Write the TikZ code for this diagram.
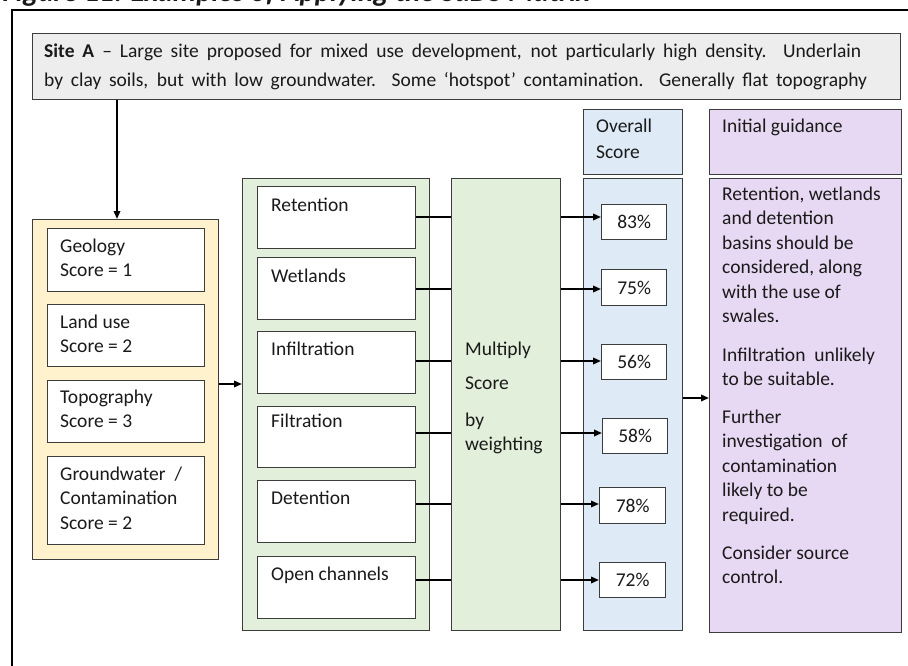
\documentclass[tikz,border=0pt]{standalone}
\usepackage{fontspec}
\setmainfont{Carlito}
\usetikzlibrary{arrows.meta}

\definecolor{edge}{HTML}{3C3C3C}
\definecolor{sitegrey}{HTML}{EDEDED}
\definecolor{factfill}{HTML}{FFF2CC}
\definecolor{optfill}{HTML}{E2EFDA}
\definecolor{scorefill}{HTML}{DEEBF7}
\definecolor{guidefill}{HTML}{E7D9F3}
\definecolor{ink}{HTML}{1A1A1A}

\newcommand\bodyfont{\fontsize{19.5}{24.5}\selectfont}
\newcommand\topline{\rule{0pt}{16pt}}

\begin{document}
\begin{tikzpicture}[x=1pt,y=-1pt,
  box/.style={draw=edge, line width=1.3pt, inner sep=0pt, anchor=north west},
  lbl/.style={anchor=north west, align=left, inner sep=0pt, font=\bodyfont, text=ink},
  conn/.style={line width=1.8pt, black},
  arr/.style={conn, -{Triangle[length=8pt,width=6.5pt]}}]
\useasboundingbox (0,0) rectangle (908,666);

% caption (runs off the top edge)
\node[anchor=base east, inner sep=0pt, text=ink,
      font=\fontsize{29}{30}\selectfont\bfseries\itshape] (cap) at (590,1.5)
  {Figure 11: Examples of Applying the SuDS Matrix};

% outer frame
\draw[line width=1.4pt, black] (12,666) -- (12,10) -- (908,10);

% site description
\node[box, fill=sitegrey, minimum width=868pt, minimum height=66pt] (siteA) at (32,33) {};
\node[anchor=north west, align=left, inner sep=0pt, text=ink,
      font=\fontsize{19.5}{29}\selectfont] (siteAt) at (44,41)
  {\topline\makebox[817pt][s]{\textbf{Site A} – Large site proposed for mixed use development, not particularly high density. Underlain}\\
   \makebox[823pt][s]{by clay soils, but with low groundwater. Some ‘hotspot’ contamination. Generally flat topography}};

% site factors
\node[box, fill=factfill, minimum width=186pt, minimum height=340pt] (yel) at (32,219) {};
\node[box, fill=white, minimum width=157pt, minimum height=63pt] (geo) at (47,228) {};
\node[box, fill=white, minimum width=157pt, minimum height=62pt] (land) at (47,304) {};
\node[box, fill=white, minimum width=157pt, minimum height=62pt] (topo) at (47,380) {};
\node[box, fill=white, minimum width=157pt, minimum height=88pt] (gw) at (47,456) {};
\node[lbl] (geot) at ([shift={(13,8)}]geo.north west) {\topline Geology\\Score = 1};
\node[lbl] (landt) at ([shift={(13,8)}]land.north west) {\topline Land use\\Score = 2};
\node[lbl] (topot) at ([shift={(13,7)}]topo.north west) {\topline Topography\\Score = 3};
\node[lbl] (gwt) at ([shift={(13,8)}]gw.north west) {\topline Groundwater\ \ /\\Contamination\\Score = 2};

% SuDS options
\node[box, fill=optfill, minimum width=187pt, minimum height=452pt] (grn) at (242,178) {};
\node[box, fill=white, minimum width=158pt, minimum height=62pt] (ret) at (257,186) {};
\node[box, fill=white, minimum width=158pt, minimum height=62pt] (wet) at (257,257) {};
\node[box, fill=white, minimum width=158pt, minimum height=62pt] (inf) at (257,331) {};
\node[box, fill=white, minimum width=158pt, minimum height=61pt] (fil) at (257,406) {};
\node[box, fill=white, minimum width=158pt, minimum height=62pt] (det) at (257,480) {};
\node[box, fill=white, minimum width=158pt, minimum height=62pt] (och) at (257,556) {};
\node[lbl] (rett) at ([shift={(14,9)}]ret.north west) {\topline Retention};
\node[lbl] (wett) at ([shift={(14,9)}]wet.north west) {\topline Wetlands};
\node[lbl] (inft) at ([shift={(14,8)}]inf.north west) {\topline Infiltration};
\node[lbl] (filt) at ([shift={(14,5)}]fil.north west) {\topline Filtration};
\node[lbl] (dett) at ([shift={(14,8)}]det.north west) {\topline Detention};
\node[lbl] (ocht) at ([shift={(14,8)}]och.north west) {\topline Open channels};

% weighting
\node[box, fill=optfill, minimum width=109pt, minimum height=452pt] (mult) at (451,178) {};
\node[lbl] (multt) at (465,339) {\topline Multiply\\[10pt]Score\\[12pt]by\\weighting};

% overall scores
\node[box, fill=scorefill, minimum width=99pt, minimum height=65pt] (oshead) at (583,109) {};
\node[lbl] (osheadt) at (596,116) {\topline Overall\\[1.5pt]Score};
\node[box, fill=scorefill, minimum width=99pt, minimum height=452pt] (osbody) at (583,178) {};
\node[box, fill=white, minimum width=65pt, minimum height=35pt, font=\bodyfont, text=ink] (p83) at (601,204) {83\%};
\node[box, fill=white, minimum width=65pt, minimum height=36pt, font=\bodyfont, text=ink] (p75) at (601,269) {75\%};
\node[box, fill=white, minimum width=65pt, minimum height=35pt, font=\bodyfont, text=ink] (p56) at (601,344) {56\%};
\node[box, fill=white, minimum width=65pt, minimum height=35pt, font=\bodyfont, text=ink] (p58) at (602,418) {58\%};
\node[box, fill=white, minimum width=66pt, minimum height=36pt, font=\bodyfont, text=ink] (p78) at (599,487) {78\%};
\node[box, fill=white, minimum width=66pt, minimum height=35pt, font=\bodyfont, text=ink] (p72) at (599,562) {72\%};

% guidance
\node[box, fill=guidefill, minimum width=192pt, minimum height=65pt] (ighead) at (709,109) {};
\node[lbl] (igheadt) at (722,116) {\topline Initial guidance};
\node[box, fill=guidefill, minimum width=192pt, minimum height=454pt] (igbody) at (709,178) {};
\node[lbl] (igbodyt) at (722,184)
  {\topline Retention, wetlands\\and detention\\basins should be\\considered, along\\with the use of\\swales.\\[14pt]
   Infiltration\ \ unlikely\\to be suitable.\\[13pt]
   Further\\investigation\ \ of\\contamination\\likely to be\\required.\\[13.5pt]
   Consider source\\control.};

% connector levels
\coordinate (lx) at (117,0);
\coordinate (ly) at (0,384);
\coordinate (lg) at (0,398);
\coordinate (l1) at (0,217);
\coordinate (l2) at (0,289);
\coordinate (l3) at (0,361);
\coordinate (l4) at (0,433);
\coordinate (l5) at (0,504);
\coordinate (l6) at (0,580);

% connectors
\draw[arr] (siteA.south -| lx) -- (yel.north -| lx);
\draw[arr] (yel.east |- ly) -- (grn.west |- ly);

\draw[conn] (ret.east |- l1) -- (mult.west |- l1);
\draw[conn] (wet.east |- l2) -- (mult.west |- l2);
\draw[conn] (inf.east |- l3) -- (mult.west |- l3);
\draw[conn] (fil.east |- l4) -- (mult.west |- l4);
\draw[conn] (det.east |- l5) -- (mult.west |- l5);
\draw[conn] (och.east |- l6) -- (mult.west |- l6);

\draw[arr] (mult.east |- l1) -- (p83.west |- l1);
\draw[arr] (mult.east |- l2) -- (p75.west |- l2);
\draw[arr] (mult.east |- l3) -- (p56.west |- l3);
\draw[arr] (mult.east |- l4) -- (p58.west |- l4);
\draw[arr] (mult.east |- l5) -- (p78.west |- l5);
\draw[arr] (mult.east |- l6) -- (p72.west |- l6);

\draw[arr] (osbody.east |- lg) -- (igbody.west |- lg);
\end{tikzpicture}
\end{document}
